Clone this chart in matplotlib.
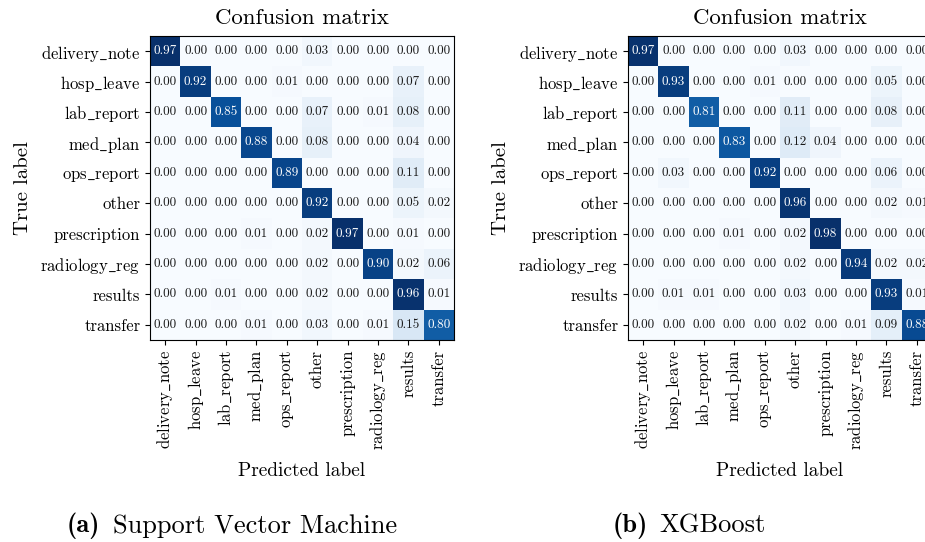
import numpy as np
import matplotlib.pyplot as plt

classes = ["delivery_note", "hosp_leave", "lab_report", "med_plan", "ops_report",
           "other", "prescription", "radiology_reg", "results", "transfer"]

svm_cm = np.array([
    [0.97, 0.00, 0.00, 0.00, 0.00, 0.03, 0.00, 0.00, 0.00, 0.00],
    [0.00, 0.92, 0.00, 0.00, 0.01, 0.00, 0.00, 0.00, 0.07, 0.00],
    [0.00, 0.00, 0.85, 0.00, 0.00, 0.07, 0.00, 0.01, 0.08, 0.00],
    [0.00, 0.00, 0.00, 0.88, 0.00, 0.08, 0.00, 0.00, 0.04, 0.00],
    [0.00, 0.00, 0.00, 0.00, 0.89, 0.00, 0.00, 0.00, 0.11, 0.00],
    [0.00, 0.00, 0.00, 0.00, 0.00, 0.92, 0.00, 0.00, 0.05, 0.02],
    [0.00, 0.00, 0.00, 0.01, 0.00, 0.02, 0.97, 0.00, 0.01, 0.00],
    [0.00, 0.00, 0.00, 0.00, 0.00, 0.02, 0.00, 0.90, 0.02, 0.06],
    [0.00, 0.00, 0.01, 0.00, 0.00, 0.02, 0.00, 0.00, 0.96, 0.01],
    [0.00, 0.00, 0.00, 0.01, 0.00, 0.03, 0.00, 0.01, 0.15, 0.80],
])

xgb_cm = np.array([
    [0.97, 0.00, 0.00, 0.00, 0.00, 0.03, 0.00, 0.00, 0.00, 0.00],
    [0.00, 0.93, 0.00, 0.00, 0.01, 0.00, 0.00, 0.00, 0.05, 0.00],
    [0.00, 0.00, 0.81, 0.00, 0.00, 0.11, 0.00, 0.00, 0.08, 0.00],
    [0.00, 0.00, 0.00, 0.83, 0.00, 0.12, 0.04, 0.00, 0.00, 0.00],
    [0.00, 0.03, 0.00, 0.00, 0.92, 0.00, 0.00, 0.00, 0.06, 0.00],
    [0.00, 0.00, 0.00, 0.00, 0.00, 0.96, 0.00, 0.00, 0.02, 0.01],
    [0.00, 0.00, 0.00, 0.01, 0.00, 0.02, 0.98, 0.00, 0.00, 0.00],
    [0.00, 0.00, 0.00, 0.00, 0.00, 0.02, 0.00, 0.94, 0.02, 0.02],
    [0.00, 0.01, 0.01, 0.00, 0.00, 0.03, 0.00, 0.00, 0.93, 0.01],
    [0.00, 0.00, 0.00, 0.00, 0.00, 0.02, 0.00, 0.01, 0.09, 0.88],
])

plt.rcParams['font.family'] = ['cmr10', 'DejaVu Serif']
plt.rcParams['mathtext.fontset'] = 'cm'
plt.rcParams['axes.unicode_minus'] = False

# cmr10 has a dot accent where '_' should be, so take the underscore from mathtext
tick_labels = [c.replace('_', r'$\_$') for c in classes]


def plot_cm(ax, cm):
    ax.imshow(cm, cmap='Blues', interpolation='nearest')
    ax.set_title('Confusion matrix', fontsize=16.5, pad=9)
    ticks = np.arange(len(classes))
    ax.set_xticks(ticks)
    ax.set_yticks(ticks)
    ax.set_xticklabels(tick_labels, rotation=90, fontsize=12)
    ax.set_yticklabels(tick_labels, fontsize=12)
    ax.set_xlabel('Predicted label', fontsize=14, labelpad=9)
    ax.set_ylabel('True label', fontsize=15, labelpad=6)
    thresh = (cm.max() + cm.min()) / 2
    for i in range(cm.shape[0]):
        for j in range(cm.shape[1]):
            ax.text(j, i, f'{cm[i, j]:.2f}', ha='center', va='center', fontsize=9.5,
                    color='white' if cm[i, j] > thresh else '#1a1a1a')


fig = plt.figure(figsize=(9.25, 5.42), dpi=100)
ax1 = fig.add_axes([150 / 925, 202 / 542, 304 / 925, 304 / 542])
ax2 = fig.add_axes([628 / 925, 202 / 542, 304 / 925, 304 / 542])
plot_cm(ax1, svm_cm)
plot_cm(ax2, xgb_cm)

fig.text(67 / 925, 16 / 542, '(a)', family='cmb10', fontsize=19, va='center')
fig.text(113 / 925, 16 / 542, 'Support Vector Machine', fontsize=19, va='center')
fig.text(613 / 925, 16 / 542, '(b)', family='cmb10', fontsize=19, va='center')
fig.text(659 / 925, 16 / 542, 'XGBoost', fontsize=19, va='center')

fig.savefig('out.png', dpi=100)
